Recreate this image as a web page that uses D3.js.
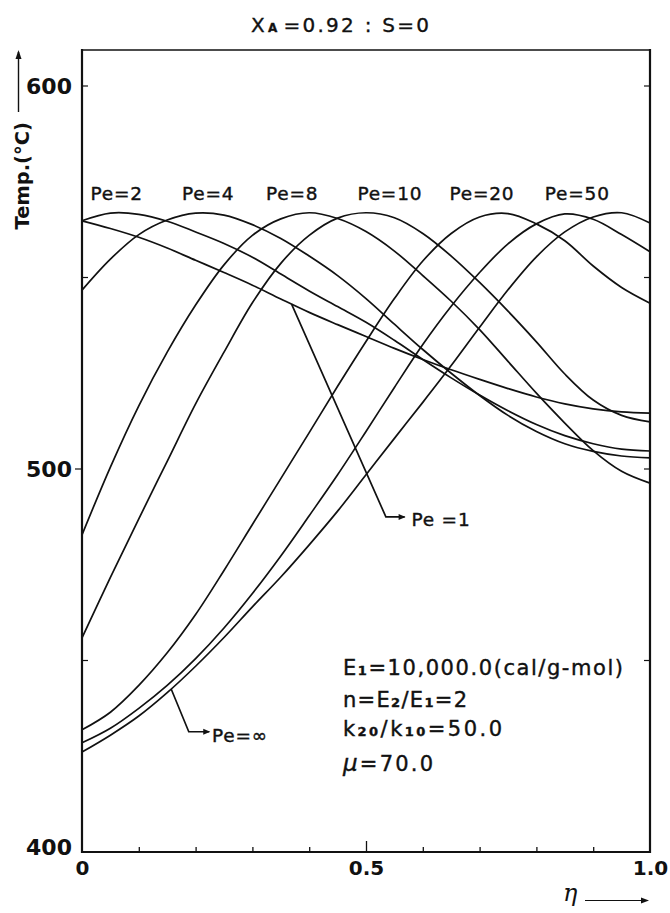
<!DOCTYPE html>
<html>
<head>
<meta charset="utf-8">
<script src="https://cdn.jsdelivr.net/npm/d3@7/dist/d3.min.js"></script>
<style>
html,body{margin:0;padding:0;background:#fff;}
svg{display:block;}
</style>
</head>
<body>
<svg id="chart" width="670" height="913"></svg>
<script>
// ---------------- data ----------------
const eta   = [0,0.05,0.1,0.15,0.2,0.25,0.3,0.35,0.4,0.45,0.5,0.55,0.6,0.65,0.7,0.75,0.8,0.85,0.9,0.95,1.0];
const pe1   = [564.8,562.8,560.5,557.7,554.5,551.3,548.0,544.4,540.9,537.7,534.6,531.5,528.6,525.9,523.4,521.0,518.8,517.0,515.7,514.9,514.6];
const pe2   = [564.8,566.8,566.5,564.7,561.9,558.9,555.3,550.9,546.5,542.4,538.3,533.6,528.6,523.8,519.3,515.2,511.6,508.7,506.6,505.2,504.7];
const pe4   = [546.7,554.8,561.2,565.0,566.8,566.3,563.8,560.2,555.6,550.5,544.5,537.8,531.2,525.0,519.2,514.0,509.8,506.6,504.6,503.4,502.9];
const pe8   = [482.8,500.5,516.5,530.5,542.8,553.3,561.0,565.3,566.9,565.4,562.0,556.9,550.5,543.8,536.4,528.1,519.8,512.0,504.8,499.4,496.3];
const pe10  = [455.9,471.7,487.0,502.0,517.0,530.5,543.4,553.7,561.0,565.5,566.9,565.6,561.5,555.6,548.7,541.2,533.2,524.8,518.0,514.0,512.3];
const pe20  = [431.9,436.5,443.5,452.0,462.0,473.5,485.5,497.5,509.5,521.6,533.3,544.5,554.3,561.5,565.8,566.7,564.0,559.6,553.0,547.4,543.3];
const pe50  = [428.5,432.3,437.5,443.5,450.5,458.5,467.5,477.3,487.8,498.5,509.8,521.3,532.5,542.5,551.3,558.8,564.0,566.6,565.2,561.2,556.7];
const peInf = [426.1,430.5,435.5,441.6,448.5,456.0,464.0,471.8,480.2,489.0,498.5,508.0,517.4,527.0,537.0,546.8,555.4,561.9,565.8,566.9,564.2];

const seriesNames  = ["Pe=1","Pe=2","Pe=4","Pe=8","Pe=10","Pe=20","Pe=50","Pe=\u221e"];
const seriesValues = [pe1, pe2, pe4, pe8, pe10, pe20, pe50, peInf];

const xTickValues  = [0,0.1,0.2,0.3,0.4,0.5,0.6,0.7,0.8,0.9,1.0];
const xLabelValues = [0,0.5,1.0];
const xTickLabels  = ["0","0.5","1.0"];
const yTickValues  = [400,500,600];
const yTickLabels  = ["400","500","600"];
const yMinorTicks  = [450,550];

const titleMain = "X", titleSub = "A", titleRest = "=0.92 : S=0";
const yAxisTitle = "Temp.(\u00b0C)";
const xAxisTitle = "\u03b7";

// ---------------- layout (positions / styles) ----------------
const plot = {left:82, right:650, top:50, bottom:852};
const FONT = "'DejaVu Sans', 'Liberation Sans', sans-serif";
const INK = "#111";

const topLabels = [ // label name, eta centre, T baseline
  {name:"Pe=2",  e:0.061, t:570.2},
  {name:"Pe=4",  e:0.222, t:570.2},
  {name:"Pe=8",  e:0.370, t:570.2},
  {name:"Pe=10", e:0.542, t:570.2},
  {name:"Pe=20", e:0.704, t:570.2},
  {name:"Pe=50", e:0.872, t:570.2}
];

const svg = d3.select("#chart");
const x = d3.scaleLinear().domain([0,1]).range([plot.left, plot.right]);
const y = d3.scaleLinear().domain([400, 400 + (plot.bottom - plot.top)/3.83]).range([plot.bottom, plot.top]);

function valueAt(series, e){
  const i = Math.min(eta.length-2, Math.max(0, d3.bisectRight(eta, e)-1));
  const f = (e - eta[i])/(eta[i+1]-eta[i]);
  return series[i] + f*(series[i+1]-series[i]);
}

// ---------------- curves ----------------
const line = d3.line()
  .x((d,i) => x(eta[i]))
  .y(d => y(d))
  .curve(d3.curveCatmullRom.alpha(0.5));

svg.append("g").selectAll("path")
  .data(seriesValues)
  .join("path")
  .attr("d", d => line(d))
  .attr("fill","none")
  .attr("stroke",INK)
  .attr("stroke-width",1.7)
  .attr("stroke-linejoin","round");

// ---------------- frame ----------------
svg.append("line").attr("x1",plot.left).attr("x2",plot.right).attr("y1",plot.top).attr("y2",plot.top)
  .attr("stroke",INK).attr("stroke-width",1.6);
svg.append("line").attr("x1",plot.left).attr("x2",plot.right).attr("y1",plot.bottom).attr("y2",plot.bottom)
  .attr("stroke",INK).attr("stroke-width",2.2);
svg.append("line").attr("x1",plot.left).attr("x2",plot.left).attr("y1",plot.top-1).attr("y2",plot.bottom+1)
  .attr("stroke",INK).attr("stroke-width",2.2);
svg.append("line").attr("x1",plot.right).attr("x2",plot.right).attr("y1",plot.top-1).attr("y2",plot.bottom+1)
  .attr("stroke",INK).attr("stroke-width",2.2);

// ---------------- x axis ----------------
const xAxis = d3.axisBottom(x)
  .tickValues(xTickValues)
  .tickSizeInner(-5).tickSizeOuter(0).tickPadding(9)
  .tickFormat(d => { const i = xLabelValues.findIndex(v => Math.abs(v-d) < 1e-9); return i >= 0 ? xTickLabels[i] : ""; });
const gx = svg.append("g").attr("transform", `translate(0,${plot.bottom})`).call(xAxis);
gx.select(".domain").remove();
gx.selectAll(".tick line").attr("stroke",INK).attr("stroke-width",1.3)
  .attr("y2", d => Math.abs(d-0.5) < 1e-9 ? -11 : (d===0||d===1 ? 0 : -5));
gx.selectAll(".tick text").attr("font-family",FONT).attr("font-size",20).attr("font-weight","bold").attr("fill",INK);

// ---------------- y axis ----------------
const yAxis = d3.axisLeft(y)
  .tickValues(yTickValues)
  .tickSizeInner(0).tickSizeOuter(0).tickPadding(10)
  .tickFormat((d,i) => yTickLabels[i]);
const gy = svg.append("g").attr("transform", `translate(${plot.left},0)`).call(yAxis);
gy.select(".domain").remove();
gy.selectAll(".tick text").attr("font-family",FONT).attr("font-size",22).attr("font-weight","bold").attr("fill",INK)
  .attr("dy", d => d === 400 ? "0.12em" : "0.34em");

// tick marks on left / right edges
const tickSet = yMinorTicks.concat([500,600]);
svg.append("g").selectAll("line").data(tickSet).join("line")
  .attr("x1", d => d === 500 ? plot.left - 7 : plot.left)
  .attr("x2", d => d === 500 ? plot.left : plot.left + 6)
  .attr("y1", d => y(d)).attr("y2", d => y(d))
  .attr("stroke",INK).attr("stroke-width",1.2);
svg.append("g").selectAll("line").data(tickSet).join("line")
  .attr("x1", plot.right - 6).attr("x2", plot.right)
  .attr("y1", d => y(d)).attr("y2", d => y(d))
  .attr("stroke",INK).attr("stroke-width",1.2);

// ---------------- titles ----------------
const title = svg.append("text").attr("x", 340).attr("y", 32)
  .attr("text-anchor","middle").attr("font-family",FONT).attr("font-size",20).attr("fill",INK)
  .attr("stroke",INK).attr("stroke-width",0.35)
  .attr("textLength",178).attr("lengthAdjust","spacing");
title.append("tspan").text(titleMain);
title.append("tspan").attr("font-size",12).attr("font-weight","bold").attr("dx",1).text(titleSub);
title.append("tspan").attr("dx",4).text(titleRest);

svg.append("text")
  .attr("transform","translate(29,122) rotate(-90)")
  .attr("text-anchor","end").attr("font-family",FONT).attr("font-size",19.5).attr("font-weight","bold").attr("fill",INK)
  .text(yAxisTitle);
svg.append("line").attr("x1",18.5).attr("x2",18.5).attr("y1",112).attr("y2",52).attr("stroke",INK).attr("stroke-width",1.4);
svg.append("path").attr("d","M15.5,59 L18.5,50 L21.5,59 Z").attr("fill",INK);

svg.append("text").attr("x",563).attr("y",901)
  .attr("font-family","'DejaVu Serif', serif").attr("font-style","italic").attr("font-size",24).attr("fill",INK)
  .text(xAxisTitle);
svg.append("line").attr("x1",585).attr("x2",646).attr("y1",900.5).attr("y2",900.5).attr("stroke",INK).attr("stroke-width",1.1);
svg.append("path").attr("d","M641,897.5 L649,900.5 L641,903.5 Z").attr("fill",INK);

// ---------------- curve labels ----------------
svg.append("g").selectAll("text").data(topLabels).join("text")
  .attr("x", d => x(d.e)).attr("y", d => y(d.t))
  .attr("text-anchor","middle").attr("font-family",FONT).attr("font-size",18.5).attr("letter-spacing",0.8)
  .attr("fill",INK).attr("stroke",INK).attr("stroke-width",0.4)
  .text(d => d.name);

function pointer(series, eCurve, eCorner, tCorner, eEnd, eLabel, tLabel, lbl){
  const p0 = [x(eCurve), y(valueAt(series, eCurve))];
  const p1 = [x(eCorner), y(tCorner)];
  const p2 = [x(eEnd), y(tCorner)];
  svg.append("path").attr("d", d3.line()([p0,p1,p2])).attr("fill","none").attr("stroke",INK).attr("stroke-width",1.7);
  svg.append("path").attr("d", `M${p2[0]-6},${p2[1]-3} L${p2[0]+1},${p2[1]} L${p2[0]-6},${p2[1]+3} Z`).attr("fill",INK);
  svg.append("text").attr("x", x(eLabel)).attr("y", y(tLabel))
    .attr("font-family",FONT).attr("font-size",18.5).attr("letter-spacing",0.8)
    .attr("fill",INK).attr("stroke",INK).attr("stroke-width",0.4).text(lbl);
}
pointer(pe1, 0.369, 0.535, 487.5, 0.568, 0.580, 485.2, "Pe =1");
pointer(peInf, 0.157, 0.188, 431.4, 0.224, 0.229, 428.8, "Pe=\u221e");

// ---------------- parameter block ----------------
const params = [
  {t:446.2, len:280, parts:[["E"],["1","sub"],["=10,000.0(cal/g-mol)"]]},
  {t:437.9, len:124, parts:[["n=E"],["2","sub"],["/E"],["1","sub"],["=2"]]},
  {t:430.3, len:159, parts:[["k"],["20","sub"],["/k"],["10","sub"],["=50.0"]]},
  {t:421.1, len:90,  parts:[["\u03bc","mu"],["=70.0"]]}
];
params.forEach(p => {
  const tx = svg.append("text").attr("x", 343).attr("y", y(p.t))
    .attr("font-family",FONT).attr("font-size",21).attr("fill",INK)
    .attr("stroke",INK).attr("stroke-width",0.4)
    .attr("textLength",p.len).attr("lengthAdjust","spacing");
  p.parts.forEach(([s,kind]) => {
    const ts = tx.append("tspan").text(s);
    if (kind === "sub") ts.attr("font-size",13).attr("font-weight","bold");
    if (kind === "mu") ts.attr("font-style","italic").attr("font-size",23);
  });
});
</script>
</body>
</html>
